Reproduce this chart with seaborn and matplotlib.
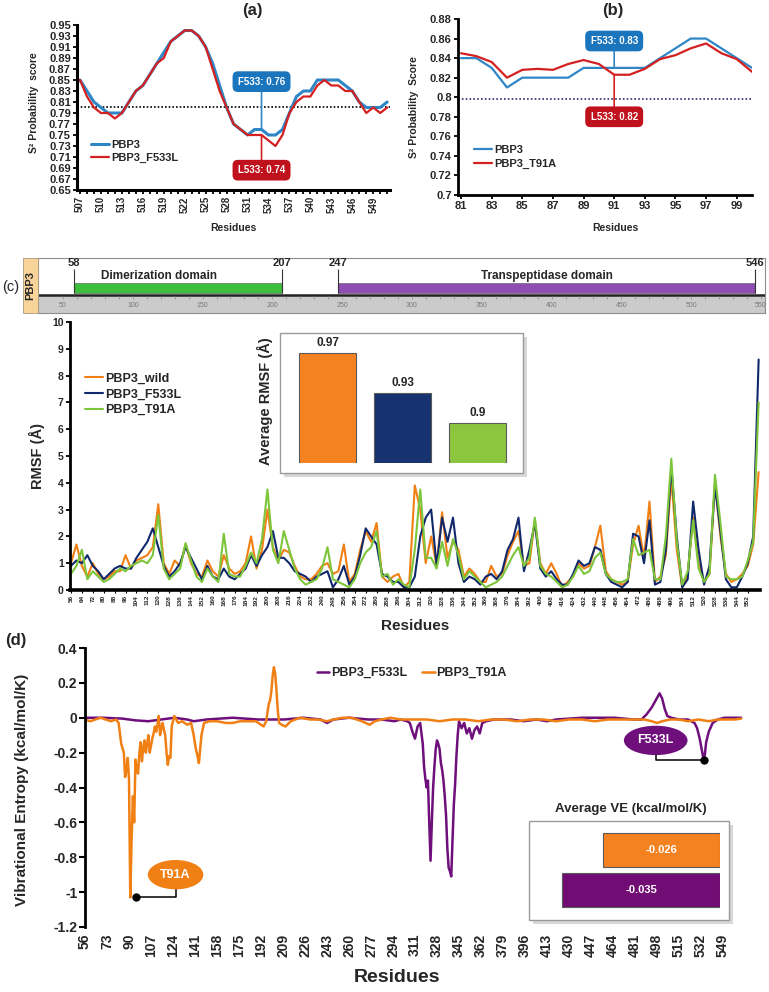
import numpy as np
import matplotlib
matplotlib.use("Agg")
import matplotlib.pyplot as plt
import seaborn as sns
from matplotlib.patches import Rectangle

sns.set_theme(style="white")
plt.rcParams['font.family'] = ['Liberation Sans', 'DejaVu Sans']
plt.rcParams['font.weight'] = 'bold'
plt.rcParams['axes.labelweight'] = 'bold'

# ---------------- data: panel (a) ----------------
a_res = list(range(507, 552))
a_pbp3 = [0.85, 0.83, 0.81, 0.80, 0.79, 0.79, 0.79, 0.81, 0.83, 0.84, 0.86, 0.88, 0.90,
          0.92, 0.93, 0.94, 0.94, 0.93, 0.91, 0.88, 0.84, 0.80, 0.77, 0.76, 0.75, 0.76,
          0.76, 0.75, 0.75, 0.76, 0.79, 0.82, 0.83, 0.83, 0.85, 0.85, 0.85, 0.85, 0.84,
          0.83, 0.81, 0.80, 0.80, 0.80, 0.81]
a_f533l = [0.85, 0.82, 0.80, 0.79, 0.79, 0.78, 0.79, 0.81, 0.83, 0.84, 0.86, 0.88, 0.89,
           0.92, 0.93, 0.94, 0.94, 0.93, 0.91, 0.87, 0.83, 0.80, 0.77, 0.76, 0.75, 0.75,
           0.75, 0.74, 0.73, 0.75, 0.79, 0.81, 0.82, 0.82, 0.84, 0.85, 0.84, 0.84, 0.83,
           0.83, 0.81, 0.79, 0.80, 0.79, 0.80]
a_threshold = 0.80
a_ann_res = 533
a_ann_text = ["F533: 0.76", "L533: 0.74"]
a_ann_y = [0.76, 0.75]
a_box_y = [0.847, 0.686]

# ---------------- data: panel (b) ----------------
b_res = list(range(81, 101))
b_pbp3 = [0.84, 0.84, 0.83, 0.81, 0.82, 0.82, 0.82, 0.82, 0.83, 0.83, 0.83, 0.83, 0.83,
          0.84, 0.85, 0.86, 0.86, 0.85, 0.84, 0.83]
b_t91a = [0.845, 0.842, 0.836, 0.820, 0.828, 0.829, 0.828, 0.834, 0.838, 0.834, 0.823,
          0.823, 0.829, 0.839, 0.843, 0.850, 0.855, 0.845, 0.839, 0.826]
b_threshold = 0.798
b_ann_res = 91
b_ann_text = ["F533: 0.83", "L533: 0.82"]
b_ann_y = [0.83, 0.823]
b_box_y = [0.8575, 0.780]

# ---------------- data: domain map ----------------
dom_names = ["Dimerization domain", "Transpeptidase domain"]
dom_start = [58, 247]
dom_end = [207, 546]
ruler_ticks = list(range(50, 551, 50))

# ---------------- data: panel (c) RMSF ----------------
c_res = list(range(56, 561, 4))
c_wild = [1.0, 1.7, 0.9, 0.5, 1.0, 0.6, 0.4, 0.5, 0.7, 0.7, 1.3, 0.8, 1.1, 1.2, 1.3, 1.6,
          3.2, 1.0, 0.6, 1.1, 0.9, 1.7, 1.0, 0.6, 0.5, 1.1, 0.7, 0.5, 1.3, 0.8, 0.6, 0.7,
          1.0, 2.0, 0.8, 1.5, 3.0, 1.6, 1.1, 1.5, 1.4, 0.9, 0.5, 0.4, 0.4, 0.6, 0.9, 1.0,
          0.6, 0.7, 1.7, 0.3, 0.6, 1.5, 2.2, 1.8, 2.5, 0.5, 0.3, 0.5, 0.6, 0.1, 0.3, 3.9,
          3.0, 1.0, 2.0, 0.9, 2.9, 1.2, 1.8, 1.5, 0.5, 0.8, 0.6, 0.3, 0.3, 0.9, 0.5, 0.6,
          1.3, 1.8, 2.2, 0.9, 1.0, 2.6, 1.0, 0.6, 1.0, 0.6, 0.1, 0.3, 0.5, 1.0, 0.8, 0.9,
          1.6, 2.4, 0.7, 0.4, 0.3, 0.2, 0.3, 1.7, 2.4, 1.2, 3.3, 0.3, 0.5, 1.3, 4.2, 1.5,
          0.1, 0.6, 2.7, 1.0, 0.3, 0.6, 4.0, 2.0, 0.6, 0.3, 0.4, 0.6, 0.9, 1.7, 4.4]
c_f533l = [0.9, 1.1, 1.0, 1.3, 0.9, 0.7, 0.4, 0.6, 0.8, 0.9, 0.8, 0.8, 1.2, 1.5, 1.8, 2.3,
           1.6, 0.9, 0.5, 0.7, 1.0, 1.6, 1.2, 0.8, 0.4, 0.9, 0.5, 0.4, 0.8, 0.5, 0.4, 0.6,
           0.8, 1.3, 0.9, 1.3, 1.6, 2.2, 1.2, 1.2, 1.0, 0.7, 0.6, 0.5, 0.3, 0.5, 0.6, 0.7,
           0.1, 0.4, 0.9, 0.2, 0.5, 1.3, 2.3, 2.0, 1.7, 0.6, 0.5, 0.3, 0.3, 0.1, 0.1, 0.5,
           2.0, 2.7, 3.0, 0.9, 2.7, 1.8, 2.7, 1.0, 0.3, 0.5, 0.4, 0.2, 0.5, 0.6, 0.4, 0.7,
           1.5, 1.9, 2.7, 0.7, 1.5, 2.5, 0.8, 0.5, 0.7, 0.4, 0.2, 0.2, 0.6, 1.1, 0.9, 1.0,
           1.6, 1.5, 0.6, 0.3, 0.2, 0.1, 0.3, 2.1, 2.0, 1.0, 2.6, 0.2, 0.3, 1.5, 4.6, 2.0,
           0.1, 0.4, 3.3, 1.5, 0.2, 0.9, 3.9, 2.2, 0.4, 0.1, 0.1, 0.5, 1.0, 2.0, 8.6]
c_t91a = [0.6, 0.9, 1.5, 0.4, 0.7, 0.5, 0.3, 0.4, 0.6, 0.8, 0.7, 0.9, 1.0, 1.1, 1.0, 1.3,
          2.8, 0.8, 0.4, 0.6, 0.8, 1.75, 1.1, 0.5, 0.3, 0.8, 0.5, 0.3, 2.1, 0.6, 0.5, 0.5,
          0.9, 1.4, 1.0, 1.9, 3.75, 1.5, 1.0, 2.2, 1.5, 0.8, 0.4, 0.2, 0.3, 0.4, 0.8, 1.6,
          0.4, 0.3, 0.2, 0.1, 0.4, 1.0, 1.4, 1.6, 2.2, 0.5, 0.6, 0.2, 0.4, 0.2, 0.1, 1.5,
          3.75, 1.2, 1.2, 0.8, 1.8, 0.9, 1.9, 1.3, 0.4, 0.7, 0.5, 0.3, 0.1, 0.2, 0.3, 0.5,
          0.9, 1.3, 1.6, 0.9, 1.2, 2.7, 0.9, 0.6, 0.5, 0.3, 0.1, 0.2, 0.5, 0.9, 0.6, 0.7,
          1.2, 1.4, 0.6, 0.4, 0.3, 0.3, 0.4, 1.9, 1.3, 1.4, 1.5, 0.4, 0.4, 2.0, 4.9, 1.8,
          0.2, 0.7, 2.6, 0.8, 0.3, 0.6, 4.3, 2.5, 0.5, 0.4, 0.4, 0.5, 1.1, 1.8, 7.0]
avg_rmsf_labels = ["PBP3_wild", "PBP3_F533L", "PBP3_T91A"]
avg_rmsf = [0.97, 0.93, 0.9]

# ---------------- data: panel (d) vibrational entropy ----------------
ve_t91a_res = [56, 60, 64, 68, 72, 76, 80, 82, 84, 86, 87, 88, 89, 90, 91, 92, 93, 94, 95,
               96, 97, 98, 99, 100, 101, 102, 103, 104, 105, 106, 107, 108, 109, 110, 111,
               112, 113, 114, 115, 116, 117, 118, 119, 120, 121, 122, 123, 125, 128, 131,
               135, 138, 140, 141, 142, 143, 144, 145, 146, 148, 152, 158, 165, 170, 176,
               182, 188, 192, 194, 196, 198, 199, 200, 201, 202, 203, 204, 205, 206, 208,
               211, 215, 222, 230, 236, 243, 248, 255, 262, 270, 276, 280, 285, 292, 300,
               310, 320, 330, 340, 350, 360, 370, 380, 390, 400, 410, 420, 430, 440, 450,
               460, 470, 480, 488, 494, 498, 502, 508, 515, 522, 530, 538, 545, 552, 558, 563]
ve_t91a_val = [-0.01, -0.02, -0.01, 0.0, -0.01, -0.02, -0.01, -0.03, -0.15, -0.20, -0.34,
               -0.30, -0.23, -0.35, -1.03, -0.70, -0.45, -0.60, -0.24, -0.30, -0.32, -0.20,
               -0.14, -0.25, -0.17, -0.13, -0.20, -0.15, -0.10, -0.20, -0.16, -0.12, -0.09,
               -0.05, -0.08, -0.04, 0.01, -0.10, -0.06, -0.03, -0.07, -0.10, -0.20, -0.27,
               -0.22, -0.23, -0.05, 0.01, -0.03, -0.02, -0.04, -0.03, -0.10, -0.15, -0.19,
               -0.22, -0.26, -0.18, -0.10, -0.03, -0.02, -0.02, -0.03, -0.03, -0.02, -0.02,
               -0.02, -0.04, -0.05, -0.02, 0.08, 0.10, 0.15, 0.24, 0.29, 0.25, 0.15, 0.04,
               -0.03, -0.04, -0.05, -0.02, 0.0, -0.01, -0.01, -0.02, -0.01, 0.0, 0.0, -0.02,
               -0.04, -0.02, -0.01, 0.0, -0.01, -0.01, -0.01, -0.02, -0.01, -0.01, -0.02,
               -0.01, -0.01, -0.02, -0.01, -0.01, -0.02, -0.01, -0.01, -0.02, -0.01, -0.01,
               -0.01, -0.01, -0.02, -0.03, -0.02, -0.01, -0.01, -0.02, -0.01, -0.02, -0.01,
               -0.01, -0.01, -0.005]
ve_f533l_res = [56, 70, 85, 95, 105, 115, 125, 135, 140, 150, 170, 190, 210, 225, 238, 243,
                248, 260, 275, 285, 295, 300, 305, 307, 309, 311, 313, 315, 317, 318, 319,
                320, 321, 322, 323, 324, 325, 326, 327, 328, 329, 330, 331, 332, 333, 334,
                335, 336, 337, 338, 339, 340, 341, 342, 343, 344, 345, 347, 349, 351, 353,
                355, 357, 359, 361, 363, 366, 372, 385, 395, 405, 413, 420, 440, 465, 480,
                486, 490, 494, 497, 500, 502, 504, 506, 509, 515, 522, 527, 529, 531, 533,
                534, 535, 536, 538, 541, 545, 550, 556, 563]
ve_f533l_val = [0.0, 0.0, -0.005, -0.015, -0.02, -0.01, 0.0, -0.01, -0.02, -0.01, 0.0,
                -0.01, -0.01, 0.0, -0.01, -0.03, -0.01, 0.0, -0.01, -0.01, -0.02, -0.01,
                -0.02, -0.03, -0.08, -0.12, -0.05, -0.03, -0.15, -0.28, -0.35, -0.40, -0.36,
                -0.60, -0.82, -0.60, -0.40, -0.28, -0.18, -0.13, -0.15, -0.18, -0.26, -0.30,
                -0.36, -0.45, -0.56, -0.75, -0.86, -0.88, -0.91, -0.70, -0.50, -0.38, -0.22,
                -0.10, -0.02, -0.06, -0.03, -0.09, -0.06, -0.12, -0.07, -0.05, -0.09, -0.03,
                -0.02, -0.01, -0.01, -0.02, -0.01, -0.02, -0.01, 0.0, 0.0, -0.01, -0.01,
                0.02, 0.06, 0.10, 0.14, 0.11, 0.05, 0.01, 0.0, -0.01, -0.01, -0.03, -0.06,
                -0.12, -0.20, -0.24, -0.21, -0.14, -0.08, -0.03, -0.01, 0.0, 0.0, 0.0]
ve_ann_text = ["T91A", "F533L"]
ve_ann_xy = [(95.5, -1.03), (534, -0.24)]
ve_ann_box = [(126, -0.90), (497, -0.13)]
avg_ve_labels = ["PBP3_T91A", "PBP3_F533L"]
avg_ve = [-0.026, -0.035]

# ---------------- colours ----------------
BLUE, RED = "#2F86C6", "#D42020"
BLUE_BOX, RED_BOX = "#1B75BC", "#C0121C"
ORANGE, NAVY, GREEN = "#F07F14", "#10296B", "#7DC53A"
PURPLE = "#6E0F7C"

W, H = 769, 992
fig = plt.figure(figsize=(W / 100, H / 100), dpi=100)


def box(l, t, r, b):
    return [l / W, 1 - b / H, (r - l) / W, (b - t) / H]


def ftext(x, y, s, **kw):
    fig.text(x / W, 1 - y / H, s, **kw)


def frame(l, t, r, b, z=2, edge="#9A9A9A", shadow=True):
    if shadow:
        fig.add_artist(Rectangle(((l + 4) / W, 1 - (b + 4) / H), (r - l) / W, (b - t) / H,
                                 transform=fig.transFigure, facecolor="#BDBDBD",
                                 edgecolor="none", alpha=0.6, zorder=z))
    fig.add_artist(Rectangle((l / W, 1 - b / H), (r - l) / W, (b - t) / H,
                             transform=fig.transFigure, facecolor="white",
                             edgecolor=edge, lw=1.0, zorder=z + 0.1))


def style(ax, lw=2.0, bottom=True):
    for s in ["top", "right"]:
        ax.spines[s].set_visible(False)
    ax.spines["left"].set_color("black")
    ax.spines["left"].set_linewidth(lw)
    if bottom:
        ax.spines["bottom"].set_color("black")
        ax.spines["bottom"].set_linewidth(lw)
    else:
        ax.spines["bottom"].set_visible(False)
    ax.tick_params(axis="both", which="both", direction="out", color="black",
                   bottom=bottom, left=True, pad=1.5)
    ax.set_facecolor("none")


# ================= panel (a) =================
ax_a = fig.add_axes(box(77, 25, 390, 190))
sns.lineplot(x=a_res, y=a_pbp3, ax=ax_a, color=BLUE, linewidth=2.2, label="PBP3")
sns.lineplot(x=a_res, y=a_f533l, ax=ax_a, color=RED, linewidth=1.6, label="PBP3_F533L")
ax_a.axhline(a_threshold, color="black", ls=(0, (1, 1.2)), lw=1.2, zorder=1)
ax_a.set_xlim(506.57, 551.4)
ax_a.set_ylim(0.65, 0.95)
style(ax_a, lw=2.2)
a_yt = np.round(np.arange(0.65, 0.951, 0.02), 2)
ax_a.set_yticks(a_yt)
ax_a.set_yticklabels([f"{v:.2f}" for v in a_yt], fontsize=8, fontweight="bold")
ax_a.set_xticks(list(range(507, 552, 3)))
ax_a.set_xticklabels([str(v) for v in range(507, 552, 3)], fontsize=7, fontweight="bold",
                     rotation=90)
ax_a.set_xticks(a_res, minor=True)
ax_a.tick_params(axis="x", which="both", length=3, width=1.3)
ax_a.tick_params(axis="y", length=3, width=1.3)
ax_a.set_xlabel("")
ax_a.set_ylabel("")
ax_a.legend(loc="upper left", bbox_to_anchor=(0.03, 0.33), frameon=False, fontsize=8,
            handlelength=1.6, handletextpad=0.2, labelspacing=0.25, borderaxespad=0)
colors_a = [BLUE_BOX, RED_BOX]
lines_a = [BLUE, RED]
for txt, yv, by, bc, lc in zip(a_ann_text, a_ann_y, a_box_y, colors_a, lines_a):
    ax_a.annotate(txt, xy=(a_ann_res, yv), xytext=(a_ann_res, by), ha="center", va="center",
                  fontsize=7, fontweight="bold", color="white",
                  bbox=dict(boxstyle="round,pad=0.55", fc=bc, ec="none"),
                  arrowprops=dict(arrowstyle="-", color=lc, lw=1.2, shrinkA=0, shrinkB=0))
ftext(252, 11, "(a)", fontsize=12, fontweight="bold", ha="center", va="center")
ftext(233, 228, "Residues", fontsize=7.5, fontweight="bold", ha="center", va="center")
ftext(34, 103, "S² Probability  score", fontsize=7.5, fontweight="bold", ha="center",
      va="center", rotation=90)

# ================= panel (b) =================
ax_b = fig.add_axes(box(458, 19, 752, 195))
sns.lineplot(x=b_res, y=b_pbp3, ax=ax_b, color=BLUE, linewidth=1.6, label="PBP3")
sns.lineplot(x=b_res, y=b_t91a, ax=ax_b, color=RED, linewidth=1.6, label="PBP3_T91A")
ax_b.axhline(b_threshold, color="#2B2B6B", ls=(0, (1, 1.3)), lw=1.2, zorder=1)
ax_b.set_xlim(80.8, 100.0)
ax_b.set_ylim(0.70, 0.88)
style(ax_b, lw=2.0)
b_yt = np.round(np.arange(0.70, 0.881, 0.02), 2)
ax_b.set_yticks(b_yt)
ax_b.set_yticklabels([f"{v:g}" for v in b_yt], fontsize=8, fontweight="bold")
ax_b.set_xticks(list(range(81, 101, 2)))
ax_b.set_xticklabels([str(v) for v in range(81, 101, 2)], fontsize=8, fontweight="bold")
ax_b.tick_params(axis="both", length=3, width=1.3)
ax_b.set_xlabel("")
ax_b.set_ylabel("")
ax_b.legend(loc="upper left", bbox_to_anchor=(0.04, 0.31), frameon=False, fontsize=8,
            handlelength=1.6, handletextpad=0.2, labelspacing=0.35, borderaxespad=0)
for txt, yv, by, bc, lc in zip(b_ann_text, b_ann_y, b_box_y, colors_a, lines_a):
    ax_b.annotate(txt, xy=(b_ann_res, yv), xytext=(b_ann_res, by), ha="center", va="center",
                  fontsize=7, fontweight="bold", color="white",
                  bbox=dict(boxstyle="round,pad=0.55", fc=bc, ec="none"),
                  arrowprops=dict(arrowstyle="-", color=lc, lw=1.2, shrinkA=0, shrinkB=0))
ftext(613, 11, "(b)", fontsize=12, fontweight="bold", ha="center", va="center")
ftext(615, 228, "Residues", fontsize=7.5, fontweight="bold", ha="center", va="center")
ftext(414, 107, "S² Probability  Score", fontsize=7.5, fontweight="bold", ha="center",
      va="center", rotation=90)

# ================= domain map =================
ax_dom = fig.add_axes(box(38, 258, 765, 313))
ax_dom.set_xlim(32.1, 552.9)
ax_dom.set_ylim(0, 1)
ax_dom.axhspan(0, 0.31, color="#CBCBCB", zorder=0)
ax_dom.axhline(0.32, color="#222222", lw=1.8)
for t in ruler_ticks:
    ax_dom.text(t, 0.14, str(t), fontsize=5, color="#7A7A7A", ha="center", va="center",
                fontweight="normal")
ax_dom.vlines(list(range(50, 551, 10)), 0.25, 0.31, color="#8A8A8A", lw=0.5)
dom_colors = ["#3DBE3D", "#8E4DB3"]
ax_dom.barh(y=[0.455, 0.455], width=[e - s for s, e in zip(dom_start, dom_end)],
            left=dom_start, height=0.17, color=dom_colors, edgecolor="#555555", lw=0.4)
for s, e, nm in zip(dom_start, dom_end, dom_names):
    ax_dom.vlines([s, e], 0.37, 0.8, color="#333333", lw=0.8)
    ax_dom.text(s, 0.9, str(s), fontsize=8, fontweight="bold", ha="center", va="center")
    ax_dom.text(e, 0.9, str(e), fontsize=8, fontweight="bold", ha="center", va="center")
    ax_dom.text((s + e) / 2 - (14 if s < 100 else 0), 0.67, nm, fontsize=8.5,
                fontweight="bold", ha="center", va="center")
ax_dom.set_xticks([])
ax_dom.set_yticks([])
for sp in ax_dom.spines.values():
    sp.set_color("#8F8F8F")
    sp.set_linewidth(0.8)
fig.add_artist(Rectangle((23 / W, 1 - 313 / H), 15 / W, 55 / H, transform=fig.transFigure,
                         facecolor="#F8D49A", edgecolor="#A89A7A", lw=0.6))
ftext(30.5, 286, "PBP3", fontsize=8, fontweight="bold", rotation=90, ha="center",
      va="center")
ftext(11, 287, "(c)", fontsize=10.5, fontweight="normal", ha="center", va="center")

# ================= panel (c) =================
ax_c = fig.add_axes(box(70, 322, 760, 590))
sns.lineplot(x=c_res, y=c_wild, ax=ax_c, color=ORANGE, linewidth=1.5, label="PBP3_wild")
sns.lineplot(x=c_res, y=c_f533l, ax=ax_c, color=NAVY, linewidth=1.5, label="PBP3_F533L")
sns.lineplot(x=c_res, y=c_t91a, ax=ax_c, color=GREEN, linewidth=1.5, label="PBP3_T91A")
ax_c.set_xlim(55.3, 561)
ax_c.set_ylim(0, 10)
style(ax_c, lw=2.0)
ax_c.spines["bottom"].set_linewidth(2.6)
ax_c.set_yticks(list(range(0, 11)))
ax_c.set_yticklabels([str(v) for v in range(0, 11)], fontsize=7.5, fontweight="bold")
ax_c.set_xticks(list(range(56, 553, 8)))
ax_c.set_xticklabels([str(v) for v in range(56, 553, 8)], fontsize=4.6, fontweight="bold",
                     rotation=90)
ax_c.tick_params(axis="x", length=2, width=0.8)
ax_c.tick_params(axis="y", length=3, width=1.3)
ax_c.set_xlabel("")
ax_c.set_ylabel("")
ax_c.legend(loc="upper left", bbox_to_anchor=(0.015, 0.83), frameon=False, fontsize=9,
            handlelength=1.4, handletextpad=0.15, labelspacing=0.3, borderaxespad=0)
ftext(415, 626, "Residues", fontsize=11, fontweight="bold", ha="center", va="center")
ftext(37, 456, "RMSF (Å)", fontsize=10.5, fontweight="bold", ha="center", va="center",
      rotation=90)

# inset: average RMSF
frame(280, 333, 523, 473, z=2)
ax_ci = fig.add_axes(box(290, 340, 515, 463))
ax_ci.set_zorder(3)
sns.barplot(x=avg_rmsf_labels, y=avg_rmsf, hue=avg_rmsf_labels,
            palette=["#F58220", "#16336F", "#8CC63F"], legend=False, ax=ax_ci, width=0.76,
            edgecolor="#5A5A5A", linewidth=0.8, saturation=1)
ax_ci.set_ylim(0.86, 0.983)
ax_ci.set_xlim(-0.5, 2.5)
for i, v in enumerate(avg_rmsf):
    ax_ci.text(i, v + 0.004, f"{v:g}", ha="center", va="bottom", fontsize=8.5,
               fontweight="bold")
ax_ci.set_axis_off()
ftext(265, 401, "Average RMSF (Å)", fontsize=10.5, fontweight="bold", ha="center",
      va="center", rotation=90)

# ================= panel (d) =================
ax_d = fig.add_axes(box(85, 648, 745, 927))
sns.lineplot(x=ve_f533l_res, y=ve_f533l_val, ax=ax_d, color=PURPLE, linewidth=1.8,
             label="PBP3_F533L")
sns.lineplot(x=ve_t91a_res, y=ve_t91a_val, ax=ax_d, color=ORANGE, linewidth=1.8,
             label="PBP3_T91A")
ax_d.set_xlim(56, 566)
ax_d.set_ylim(-1.2, 0.4)
style(ax_d, lw=2.0, bottom=False)
d_yt = np.round(np.arange(-1.2, 0.41, 0.2), 1)
ax_d.set_yticks(d_yt)
ax_d.set_yticklabels([f"{v:g}" if abs(v) > 1e-9 else "0" for v in d_yt], fontsize=10,
                     fontweight="bold")
d_xt = list(range(56, 550, 17))
ax_d.set_xticks(d_xt)
ax_d.set_xticklabels([str(v) for v in d_xt], fontsize=10, fontweight="bold", rotation=90)
ax_d.tick_params(axis="x", length=0, pad=5)
ax_d.tick_params(axis="y", length=4, width=1.5)
ax_d.set_xlabel("")
ax_d.set_ylabel("")
ax_d.legend(loc="center", bbox_to_anchor=(0.495, 0.91), ncol=2, frameon=False, fontsize=9,
            handlelength=1.0, handletextpad=0.15, columnspacing=1.2)
ann_colors = [ORANGE, PURPLE]
for txt, xy, bxy, col in zip(ve_ann_text, ve_ann_xy, ve_ann_box, ann_colors):
    ax_d.annotate(txt, xy=xy, xytext=bxy, ha="center", va="center", fontsize=9,
                  fontweight="bold", color="white",
                  bbox=dict(boxstyle="ellipse,pad=0.35", fc=col, ec="none"),
                  arrowprops=dict(arrowstyle="-", color="black", lw=1.1, shrinkA=0,
                                  shrinkB=0,
                                  connectionstyle="angle,angleA=90,angleB=0,rad=0"))
    ax_d.plot([xy[0]], [xy[1]], marker="o", color="black", markersize=5, zorder=5)
ftext(397, 978, "Residues", fontsize=14, fontweight="bold", ha="center", va="center")
ftext(22, 790, "Vibrational Entropy (kcal/mol/K)", fontsize=11, fontweight="bold",
      ha="center", va="center", rotation=90)
ftext(16, 640, "(d)", fontsize=12, fontweight="bold", ha="center", va="center")

# inset: average VE
frame(529, 821, 729, 920, z=2)
ax_di = fig.add_axes(box(540, 830, 720, 910))
ax_di.set_zorder(3)
sns.barplot(x=avg_ve, y=avg_ve_labels, hue=avg_ve_labels, palette=["#F58220", "#700C73"],
            orient="h", legend=False, ax=ax_di, width=0.83, edgecolor="#5A5A5A",
            linewidth=0.8, saturation=1)
ax_di.set_xlim(-0.0399, 0)
for i, v in enumerate(avg_ve):
    ax_di.text(v / 2, i, f"{v:g}", ha="center", va="center", fontsize=8,
               fontweight="bold", color="white")
ax_di.set_axis_off()
ftext(631, 809, "Average VE (kcal/mol/K)", fontsize=9.5, fontweight="bold", ha="center",
      va="center")

fig.savefig("out.png", dpi=100)
